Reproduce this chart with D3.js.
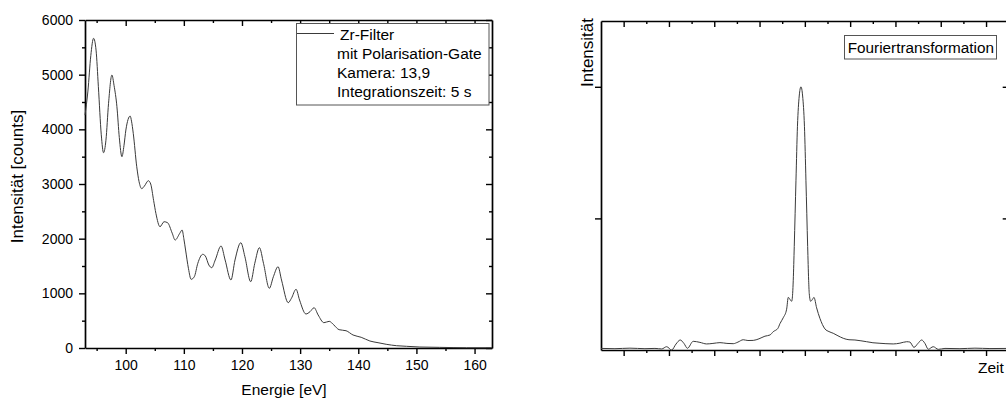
<!DOCTYPE html>
<html>
<head>
<meta charset="utf-8">
<script src="https://cdn.jsdelivr.net/npm/d3@7"></script>
<style>
  body { margin: 0; background: #fff; }
  svg text { font-family: Arial, "Liberation Sans", sans-serif; fill: #000; }
</style>
</head>
<body>
<svg id="chart" width="1006" height="399"></svg>
<script>
// Spectrum behind the Zr filter: photon energy [eV] and detector counts
const energy = [93.0, 93.5, 94.0, 94.47, 94.9, 95.3, 95.8, 96.19, 96.6, 97.05, 97.63, 98.0, 98.49, 98.9, 99.35,
  99.7, 100.03, 100.77, 101.0, 101.3, 101.9, 102.3, 102.75, 103.2, 103.9, 104.3, 104.8, 105.2, 105.9, 106.6,
  107.2, 108.0, 108.5, 109.3, 109.7, 110.0, 110.3, 110.8, 111.25, 111.8, 112.4, 113.25, 113.7, 114.3, 114.8,
  115.4, 116.4, 117.1, 118.1, 118.8, 119.8, 120.5, 121.5, 122.2, 123.0, 123.7, 124.7, 125.4, 126.2, 126.8,
  127.95, 128.5, 129.3, 129.9, 131.0, 131.7, 132.4, 133.1, 134.1, 135.0, 135.8, 136.7, 137.9, 139.1, 140.5,
  142.0, 143.4, 144.8, 146.6, 148.3, 150.6, 154.0, 158.6, 163.0];
const counts = [4260, 4700, 5350, 5665, 5450, 4780, 3900, 3572, 3800, 4476, 4993, 4800, 4414, 3850, 3499,
  3700, 3987, 4243, 4150, 3927, 3316, 3042, 2915, 2960, 3060, 3000, 2700, 2460, 2219, 2310,
  2292, 2100, 1975, 2098, 2158, 2000, 1792, 1450, 1256, 1304, 1549, 1714, 1683, 1518, 1469,
  1610, 1866, 1610, 1244, 1610, 1926, 1670, 1213, 1549, 1835, 1549, 1092, 1304, 1487, 1244,
  829, 909, 1074, 878, 622, 664, 737, 604, 463, 488, 421, 335, 316, 238, 196,
  128, 97, 68, 42, 31, 18, 12, 5, 5];

const energyTicks = [100, 110, 120, 130, 140, 150, 160];
const energyMinorTicks = [95, 105, 115, 125, 135, 145, 155];
const countTicks = [0, 1000, 2000, 3000, 4000, 5000, 6000];
const countMinorTicks = [500, 1500, 2500, 3500, 4500, 5500];
const legendLines = ["mit Polarisation-Gate", "Kamera: 13,9", "Integrationszeit: 5 s"];

// Fourier transform: time axis (arbitrary units) and relative intensity
const time = [-0.5, -0.192, 0.139, 0.470, 0.691, 0.839, 0.949, 1.060, 1.155, 1.249, 1.331, 1.408, 1.536, 1.684,
  1.832, 1.971, 2.126, 2.280, 2.419, 2.523, 2.640, 2.744, 2.861, 2.987, 3.119, 3.230, 3.302, 3.406, 3.450,
  3.523, 3.598, 3.634, 3.671, 3.709, 3.731, 3.744, 3.766, 3.804, 3.837, 3.876, 3.914, 3.951, 3.991, 4.024,
  4.062, 4.084, 4.097, 4.128, 4.168, 4.201, 4.260, 4.333, 4.444, 4.532, 4.627, 4.731, 4.848, 4.974, 5.106,
  5.238, 5.364, 5.503, 5.658, 5.790, 5.951, 6.099, 6.247, 6.320, 6.408, 6.497, 6.578, 6.651, 6.724, 6.834,
  6.945, 7.093, 7.424, 7.755, 8.086, 8.5];
const amplitude = [0.012, 0.010, 0.014, 0.010, 0.012, 0.008, 0.025, 0.000, 0.045, 0.076, 0.050, 0.013, 0.066, 0.058,
  0.046, 0.050, 0.056, 0.050, 0.048, 0.060, 0.078, 0.072, 0.073, 0.085, 0.105, 0.114, 0.139, 0.165, 0.200,
  0.245, 0.310, 0.400, 0.385, 0.370, 0.430, 0.530, 0.786, 1.290, 1.700, 1.930, 2.000, 1.930, 1.700, 1.290,
  0.786, 0.530, 0.430, 0.370, 0.385, 0.400, 0.320, 0.240, 0.160, 0.140, 0.127, 0.108, 0.089, 0.078, 0.076,
  0.070, 0.063, 0.055, 0.051, 0.048, 0.046, 0.052, 0.063, 0.060, 0.020, 0.050, 0.076, 0.050, 0.006, 0.025,
  0.005, 0.012, 0.010, 0.014, 0.011, 0.012];

const timeTicks = [0, 1, 2, 3, 4, 5, 6, 7, 8];
const timeMinorTicks = [0.5, 1.5, 2.5, 3.5, 4.5, 5.5, 6.5, 7.5];
const amplitudeTicks = [1, 2];

const svg = d3.select("#chart");
const curveColor = "#3a3a3a";
const plain = d3.format("d");

// Draw one axis; minor axes drop their domain line
function addAxis(axis, tx, ty, { minor = false } = {}) {
  const g = svg.append("g").attr("transform", `translate(${tx},${ty})`).call(axis);
  if (minor) g.select(".domain").remove();
  g.select(".domain").attr("stroke", "#000").attr("stroke-width", 1.7);
  g.selectAll(".tick line").attr("stroke", "#000").attr("stroke-width", 1.4);
  g.selectAll(".tick text").attr("font-size", 14).attr("fill", "#000")
    .style("font-family", 'Arial, "Liberation Sans", sans-serif');
  return g;
}

/* ---------- left panel: energy spectrum ---------- */
const xE = d3.scaleLinear().domain([93, 163]).range([85, 492]);
const yC = d3.scaleLinear().domain([0, 6000]).range([348, 20]);

addAxis(d3.axisBottom(xE).tickValues(energyMinorTicks).tickSize(3).tickFormat(""), 0, 348, { minor: true });
addAxis(d3.axisBottom(xE).tickValues(energyMinorTicks).tickSize(3).tickFormat(""), 0, 20, { minor: true });
addAxis(d3.axisLeft(yC).tickValues(countMinorTicks).tickSize(3).tickFormat(""), 85, 0, { minor: true });
addAxis(d3.axisLeft(yC).tickValues(countMinorTicks).tickSize(3).tickFormat(""), 492, 0, { minor: true });

addAxis(d3.axisBottom(xE).tickValues(energyTicks).tickSize(6).tickPadding(6).tickSizeOuter(0).tickFormat(plain), 0, 348);
addAxis(d3.axisBottom(xE).tickValues(energyTicks).tickSize(6).tickSizeOuter(0).tickFormat(""), 0, 20);
addAxis(d3.axisLeft(yC).tickValues(countTicks).tickSize(6).tickPadding(6).tickSizeOuter(0).tickFormat(plain), 85, 0);
addAxis(d3.axisLeft(yC).tickValues(countTicks).tickSize(6).tickSizeOuter(0).tickFormat(""), 492, 0);

const spectrumLine = d3.line()
  .x((d, i) => xE(energy[i]))
  .y((d, i) => yC(counts[i]))
  .curve(d3.curveMonotoneX);
svg.append("path").datum(energy).attr("d", spectrumLine)
  .attr("fill", "none").attr("stroke", curveColor).attr("stroke-width", 1);

svg.append("text").attr("x", 284).attr("y", 395).attr("text-anchor", "middle")
  .attr("font-size", 15.5).text("Energie [eV]");
svg.append("text").attr("transform", "translate(23,176.5) rotate(-90)").attr("text-anchor", "middle")
  .attr("font-size", 17).text("Intensität [counts]");

// legend
const legend = svg.append("g");
legend.append("rect").attr("x", 296.5).attr("y", 23.5).attr("width", 192.5).attr("height", 81.5)
  .attr("fill", "#fff").attr("stroke", "#555").attr("stroke-width", 1);
legend.append("line").attr("x1", 297).attr("x2", 334).attr("y1", 33.5).attr("y2", 33.5)
  .attr("stroke", curveColor).attr("stroke-width", 1);
legend.append("text").attr("x", 340).attr("y", 40).attr("font-size", 15.5).text("Zr-Filter");
legend.selectAll("text.extra").data(legendLines).join("text").attr("class", "extra")
  .attr("x", 337).attr("y", (d, i) => 59 + i * 19.2).attr("font-size", 15.5).text(d => d);

/* ---------- right panel: Fourier transform ---------- */
const xT = d3.scaleLinear().domain([-0.5, 8.5]).range([601, 1008.7]);
const yA = d3.scaleLinear().domain([0, 2.5]).range([350, 21]);

addAxis(d3.axisBottom(xT).tickValues(timeMinorTicks).tickSize(3).tickFormat(""), 0, 350, { minor: true });
addAxis(d3.axisBottom(xT).tickValues(timeMinorTicks).tickSize(3).tickFormat(""), 0, 21, { minor: true });
addAxis(d3.axisBottom(xT).tickValues(timeTicks).tickSize(6).tickSizeOuter(0).tickFormat(""), 0, 350);
addAxis(d3.axisBottom(xT).tickValues(timeTicks).tickSize(6).tickSizeOuter(0).tickFormat(""), 0, 21);
addAxis(d3.axisLeft(yA).tickValues(amplitudeTicks).tickSize(6).tickSizeOuter(0).tickFormat(""), 601, 0);
addAxis(d3.axisLeft(yA).tickValues(amplitudeTicks).tickSize(6).tickSizeOuter(0).tickFormat(""), 1008.7, 0);

const ftLine = d3.line()
  .x((d, i) => xT(time[i]))
  .y((d, i) => yA(amplitude[i]))
  .curve(d3.curveMonotoneX);
svg.append("path").datum(time).attr("d", ftLine)
  .attr("fill", "none").attr("stroke", curveColor).attr("stroke-width", 1);

svg.append("text").attr("x", 978).attr("y", 373).attr("font-size", 15.5).text("Zeit");
svg.append("text").attr("transform", "translate(593,52.5) rotate(-90)").attr("text-anchor", "middle")
  .attr("font-size", 17).text("Intensität");

const ftLabel = svg.append("g");
ftLabel.append("rect").attr("x", 844.5).attr("y", 35.5).attr("width", 152).attr("height", 23.5)
  .attr("fill", "#fff").attr("stroke", "#555").attr("stroke-width", 1);
ftLabel.append("text").attr("x", 847.7).attr("y", 53).attr("font-size", 15.3).text("Fouriertransformation");
</script>
</body>
</html>
